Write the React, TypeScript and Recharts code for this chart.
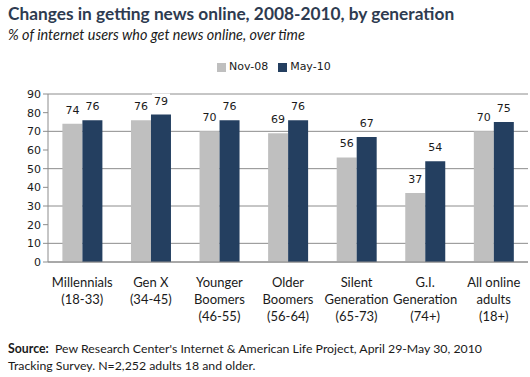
import { BarChart, Bar, XAxis, YAxis, CartesianGrid, LabelList } from 'recharts'

const categories = [
  ['Millennials', '(18-33)'],
  ['Gen X', '(34-45)'],
  ['Younger', 'Boomers', '(46-55)'],
  ['Older', 'Boomers', '(56-64)'],
  ['Silent', 'Generation', '(65-73)'],
  ['G.I.', 'Generation', '(74+)'],
  ['All online', 'adults', '(18+)'],
]
const nov08 = [74, 76, 70, 69, 56, 37, 70]
const may10 = [76, 79, 76, 76, 67, 54, 75]
const yTicks = [0, 10, 20, 30, 40, 50, 60, 70, 80, 90]
const boundaryTicks = [0, 1, 2, 3, 4, 5, 6, 7]

const data = categories.map((lines, i) => ({
  name: lines.join(' '),
  lines,
  nov08: nov08[i],
  may10: may10[i],
}))

const AXIS = '#8c8c8c'
const GRAY = '#bfbfbf'
const NAVY = '#243f60'
const TEXT = '#1a1a1a'
const CAL = 'Lato, "Open Sans", sans-serif'
const VER = '"DejaVu Sans", Verdana, sans-serif'

const CategoryTick = ({ x, y, payload }: any) => {
  const lines = data[payload.index]?.lines ?? [payload.value]
  return (
    <text x={x} y={y} textAnchor="middle" fontFamily={CAL} fontSize={13} fill={TEXT}>
      {lines.map((l: string, i: number) => (
        <tspan key={i} x={x} dy={17}>{l}</tspan>
      ))}
    </text>
  )
}

const EmptyTick = () => <g />

const ValueLabel = ({ x, y, width, value }: any) => {
  const cx = x + width / 2
  const cy = y - 14
  const w = String(value).length * 7 + 4
  return (
    <g>
      <rect x={cx - w / 2} y={cy - 7} width={w} height={14} fill="#fff" />
      <text x={cx} y={cy + 4} textAnchor="middle" fontFamily={VER} fontSize={11} fill={TEXT}>
        {value}
      </text>
    </g>
  )
}

export default function App() {
  return (
    <div style={{ position: 'absolute', left: 0, top: 0, width: 530, height: 377, background: '#fff', overflow: 'hidden' }}>
      <div style={{ position: 'absolute', left: 8, top: 3, fontFamily: CAL, fontWeight: 700, fontSize: 17.3, color: '#2e3b50', whiteSpace: 'nowrap' }}>
        Changes in getting news online, 2008-2010, by generation
      </div>
      <div style={{ position: 'absolute', left: 8, top: 26, fontFamily: CAL, fontStyle: 'italic', fontSize: 14.4, color: TEXT, whiteSpace: 'nowrap' }}>
        % of internet users who get news online, over time
      </div>
      <div style={{ position: 'absolute', top: 61, left: 217, display: 'flex', fontFamily: VER, fontSize: 11, color: TEXT, lineHeight: '12px', zIndex: 2 }}>
        <span style={{ display: 'flex', alignItems: 'center', marginRight: 10 }}>
          <span style={{ width: 9, height: 9, background: GRAY, marginRight: 3 }} />Nov-08
        </span>
        <span style={{ display: 'flex', alignItems: 'center' }}>
          <span style={{ width: 9, height: 9, background: NAVY, marginRight: 3 }} />May-10
        </span>
      </div>
      <BarChart
        width={530}
        height={377}
        data={data}
        margin={{ top: 94, right: 2, bottom: 0, left: 0 }}
        barGap={0}
        barCategoryGap="21%"
      >
        <CartesianGrid xAxisId="cat" vertical={false} stroke={AXIS} strokeWidth={1} />
        <XAxis
          xAxisId="edges"
          type="number"
          domain={[0, 7]}
          ticks={boundaryTicks}
          allowDataOverflow
          height={0}
          axisLine={false}
          tick={EmptyTick}
          tickLine={{ stroke: AXIS }}
          tickSize={5}
        />
        <XAxis
          xAxisId="cat"
          dataKey="name"
          height={115}
          interval={0}
          axisLine={{ stroke: AXIS }}
          tickLine={false}
          tick={<CategoryTick />}
        />
        <YAxis
          domain={[0, 90]}
          ticks={yTicks}
          width={48}
          axisLine={{ stroke: AXIS }}
          tickLine={{ stroke: AXIS }}
          tickSize={5}
          tick={{ fontFamily: VER, fontSize: 11, fill: TEXT }}
        />
        <Bar xAxisId="cat" dataKey="nov08" fill={GRAY} isAnimationActive={false}>
          <LabelList dataKey="nov08" content={<ValueLabel />} />
        </Bar>
        <Bar xAxisId="cat" dataKey="may10" fill={NAVY} isAnimationActive={false}>
          <LabelList dataKey="may10" content={<ValueLabel />} />
        </Bar>
      </BarChart>
      <div style={{ position: 'absolute', left: 8, top: 340, fontFamily: CAL, fontSize: 12.3, color: TEXT, lineHeight: '17px', width: 520 }}>
        <b>Source:</b>&nbsp; Pew Research Center's Internet &amp; American Life Project, April 29-May 30, 2010
        <br />
        Tracking Survey. N=2,252 adults 18 and older.
      </div>
    </div>
  )
}
